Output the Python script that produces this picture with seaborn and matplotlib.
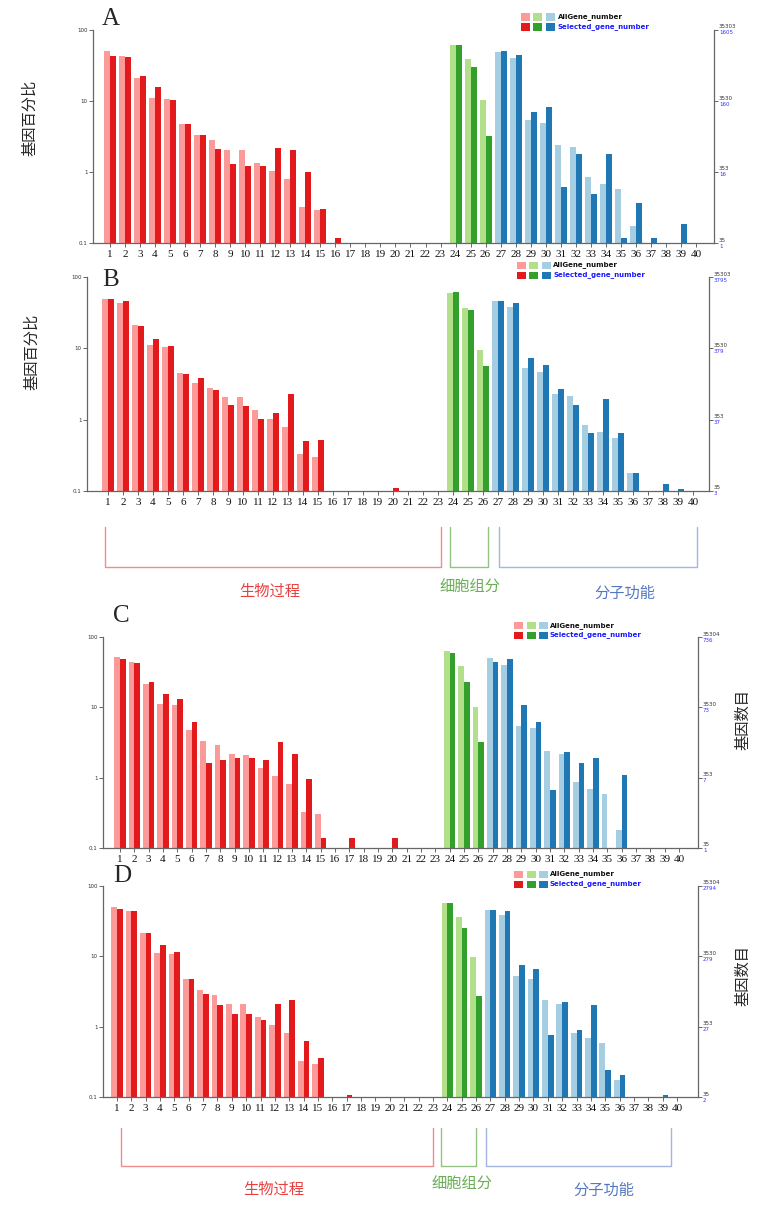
import matplotlib
matplotlib.use("Agg")
import matplotlib.pyplot as plt
from matplotlib.lines import Line2D
from matplotlib.patches import Rectangle
import pandas as pd
import seaborn as sns

W, H = 777, 1226

# ---- data ----
categories = [str(i) for i in range(1, 41)]
groups = ["bp"] * 23 + ["cc"] * 3 + ["mf"] * 14
series = ["AllGene_number", "Selected_gene_number"]

a_all = [51, 43.4, 20.9, 11.2, 10.7, 4.78, 3.27, 2.84, 2.07, 2.03, 1.35, 1.03, 0.79, 0.32, 0.29,
         0, 0, 0, 0, 0, 0, 0, 0,
         62.2, 39.1, 10.2,
         48.6, 40.4, 5.43, 4.92, 2.42, 2.22, 0.84, 0.68, 0.58, 0.173, 0, 0, 0, 0]
a_sel = [42.7, 41.3, 22.3, 16.0, 10.2, 4.82, 3.27, 2.14, 1.31, 1.22, 1.22, 2.21, 2.07, 0.99, 0.30,
         0.117, 0, 0, 0, 0, 0, 0, 0,
         62.2, 30.5, 3.23,
         50.7, 44.5, 6.96, 8.27, 0.61, 1.82, 0.49, 1.82, 0.117, 0.365, 0.117, 0, 0.185, 0]

b_all = [49.7, 43.2, 21.0, 11.0, 10.5, 4.56, 3.30, 2.81, 2.08, 2.06, 1.35, 1.02, 0.79, 0.33, 0.30,
         0, 0, 0, 0, 0, 0, 0, 0,
         59.7, 36.9, 9.62,
         46.7, 38.0, 5.33, 4.69, 2.31, 2.12, 0.83, 0.67, 0.56, 0.177, 0, 0, 0, 0]
b_sel = [49.7, 45.6, 20.3, 13.7, 10.8, 4.42, 3.88, 2.58, 1.59, 1.56, 1.02, 1.25, 2.26, 0.50, 0.52,
         0, 0, 0, 0, 0.109, 0, 0, 0,
         61.1, 34.2, 5.62,
         45.7, 43.3, 7.36, 5.93, 2.71, 1.60, 0.64, 1.96, 0.64, 0.177, 0, 0.127, 0.107, 0]

c_all = [52.0, 44.1, 21.7, 11.3, 10.9, 4.81, 3.36, 2.91, 2.15, 2.12, 1.39, 1.04, 0.82, 0.325, 0.30,
         0, 0, 0, 0, 0, 0, 0, 0,
         63.1, 38.5, 10.2,
         50.1, 40.3, 5.47, 5.01, 2.40, 2.20, 0.86, 0.69, 0.58, 0.18, 0, 0, 0, 0]
c_sel = [48.1, 43.2, 22.9, 15.3, 13.3, 6.12, 1.63, 1.76, 1.92, 1.92, 1.76, 3.18, 2.19, 0.96, 0.14,
         0, 0.14, 0, 0, 0.14, 0, 0, 0,
         59.1, 23.0, 3.23,
         43.9, 48.5, 10.7, 6.17, 0.67, 2.28, 1.62, 1.91, 0, 1.08, 0, 0, 0, 0]

d_all = [50.1, 43.5, 21.2, 11.1, 10.7, 4.69, 3.30, 2.83, 2.09, 2.09, 1.38, 1.05, 0.80, 0.32, 0.295,
         0, 0, 0, 0, 0, 0, 0, 0,
         58.2, 36.2, 9.68,
         45.4, 38.2, 5.17, 4.74, 2.38, 2.11, 0.82, 0.68, 0.58, 0.175, 0, 0, 0, 0]
d_sel = [46.5, 43.5, 21.6, 14.3, 11.5, 4.79, 2.93, 2.06, 1.50, 1.50, 1.24, 2.11, 2.38, 0.63, 0.36,
         0, 0.108, 0, 0, 0, 0, 0, 0,
         58.2, 25.6, 2.76,
         45.4, 44.5, 7.64, 6.64, 0.76, 2.25, 0.91, 2.06, 0.245, 0.206, 0, 0, 0.108, 0]

left_ticks = [0.1, 1, 10, 100]
left_ticklabels = ["0.1", "1", "10", "100"]
a_right = (["35", "353", "3530", "35303"], ["1", "16", "160", "1605"])
b_right = (["35", "353", "3530", "35303"], ["3", "37", "379", "3795"])
c_right = (["35", "353", "3530", "35304"], ["1", "7", "73", "736"])
d_right = (["35", "353", "3530", "35304"], ["2", "27", "279", "2794"])

bracket_names = ["生物过程", "细胞组分", "分子功能"]

# ---- styling ----
sns.set_theme(style="ticks")
plt.rcParams["font.family"] = ["DejaVu Sans"]
pal = sns.color_palette("Paired")
colors = {"bp": (pal[4], pal[5]), "cc": (pal[2], pal[3]), "mf": (pal[0], pal[1])}
line_cols = ["#f28b8b", "#93c283", "#a3b5e0"]
text_cols = ["#e8403f", "#6aae55", "#5477c4"]
cjk = ["Noto Sans CJK SC", "DejaVu Sans"]
serif = "Liberation Serif"


def fx(x):
    return x / W


def fy(y):
    return 1 - y / H


# panel layout in pixels: axes box, xlim, letter pos, ylabel pos, legend
panels = [
    dict(vals=(a_all, a_sel), right=a_right, box=(93, 30, 714, 243), xlim=(-1.13, 40.2),
         letter="A", lpos=(102, 19), ylab="基因百分比", ypos=(30, 118),
         sq=[521, 533, 546], tx=558, rows=[17, 27]),
    dict(vals=(b_all, b_sel), right=b_right, box=(87, 277, 709, 491), xlim=(-1.4, 40.07),
         letter="B", lpos=(102, 280), ylab="基因百分比", ypos=(32, 352),
         sq=[517, 529, 542], tx=553, rows=[265, 275]),
    dict(vals=(c_all, c_sel), right=c_right, box=(103, 637, 698, 848), xlim=(-1.19, 40.33),
         letter="C", lpos=(113, 616), ylab="基因数目", ypos=(743, 720),
         sq=[514, 527, 539], tx=550, rows=[626, 635]),
    dict(vals=(d_all, d_sel), right=d_right, box=(103, 886, 698, 1097), xlim=(-0.97, 40.46),
         letter="D", lpos=(113, 876), ylab="基因数目", ypos=(743, 975),
         sq=[514, 527, 539], tx=550, rows=[874, 884]),
]

fig = plt.figure(figsize=(W / 100, H / 100), dpi=100, facecolor="white")

for p in panels:
    x0, y0, x1, y1 = p["box"]
    ax = fig.add_axes([fx(x0), fy(y1), fx(x1) - fx(x0), fy(y0) - fy(y1)])
    df = pd.DataFrame({
        "category": categories * 2,
        "series": [series[0]] * 40 + [series[1]] * 40,
        "value": list(p["vals"][0]) + list(p["vals"][1]),
    })
    sns.barplot(data=df, x="category", y="value", hue="series", order=categories,
                hue_order=series, width=0.8, errorbar=None, legend=False,
                saturation=1, linewidth=0, ax=ax)
    for k, cont in enumerate(ax.containers):
        for i, bar in enumerate(cont):
            bar.set_facecolor(colors[groups[i]][k])
            bar.set_edgecolor("none")
    ax.set_yscale("log")
    ax.set_ylim(0.1, 100)
    ax.set_xlim(*p["xlim"])
    ax.set_xlabel("")
    ax.set_ylabel("")
    ax.minorticks_off()
    ax.set_yticks(left_ticks)
    ax.set_yticklabels(left_ticklabels, fontsize=4, color="#333333")
    ax.set_xticks(range(40))
    ax.set_xticklabels(categories, fontsize=8, family=serif, color="#111111")
    ax.tick_params(axis="x", length=3, width=0.7, color="#666666", pad=2)
    ax.tick_params(axis="y", length=3, width=0.7, color="#666666", pad=1,
                   right=True, labelright=False)
    ax.spines["top"].set_visible(False)
    for s in ["left", "right", "bottom"]:
        ax.spines[s].set_color("#666666")
        ax.spines[s].set_linewidth(0.9)
    ax.set_facecolor("white")

    # right axis labels: black total count above, blue selected count below
    blacks, blues = p["right"]
    for v, tb, tl in zip(left_ticks, blacks, blues):
        ax.annotate(tb, xy=(1, v), xycoords=("axes fraction", "data"), xytext=(5, 3),
                    textcoords="offset pixels", fontsize=4, color="#333333",
                    ha="left", va="center", annotation_clip=False)
        ax.annotate(tl, xy=(1, v), xycoords=("axes fraction", "data"), xytext=(5, -3),
                    textcoords="offset pixels", fontsize=4, color="#3333ff",
                    ha="left", va="center", annotation_clip=False)

    fig.text(fx(p["lpos"][0]), fy(p["lpos"][1]), p["letter"], family=serif,
             fontsize=18, ha="left", va="center")
    fig.text(fx(p["ypos"][0]), fy(p["ypos"][1]), p["ylab"], family=cjk,
             fontsize=11, rotation=90, ha="center", va="center")

    # legend
    for k in range(2):
        ry = p["rows"][k]
        for j, g in enumerate(["bp", "cc", "mf"]):
            fig.patches.append(Rectangle((fx(p["sq"][j]), fy(ry + 3.5)), 8.5 / W, 7 / H,
                                         transform=fig.transFigure,
                                         facecolor=colors[g][k], edgecolor="none"))
        fig.text(fx(p["tx"]), fy(ry), series[k], fontsize=5, fontweight="bold",
                 color="#111111" if k == 0 else "#1a1aff", ha="left", va="center")

# brackets under B and D
brackets = [
    dict(spans=[(105, 441), (450, 488), (499, 697)], top=527, bottom=567,
         labels=[(270, 591), (470, 587), (625, 593)]),
    dict(spans=[(121, 433), (441, 476), (486, 671)], top=1128, bottom=1166,
         labels=[(274, 1189), (462, 1184), (604, 1190)]),
]
for br in brackets:
    for (xa, xb), col, tcol, name, (lx, ly) in zip(br["spans"], line_cols, text_cols,
                                                   bracket_names, br["labels"]):
        fig.add_artist(Line2D([fx(xa), fx(xa), fx(xb), fx(xb)],
                              [fy(br["top"]), fy(br["bottom"]), fy(br["bottom"]), fy(br["top"])],
                              transform=fig.transFigure, color=col, lw=1.0))
        fig.text(fx(lx), fy(ly), name, family=cjk, fontsize=11, color=tcol,
                 ha="center", va="center")

fig.savefig("out.png", dpi=100, facecolor="white")
